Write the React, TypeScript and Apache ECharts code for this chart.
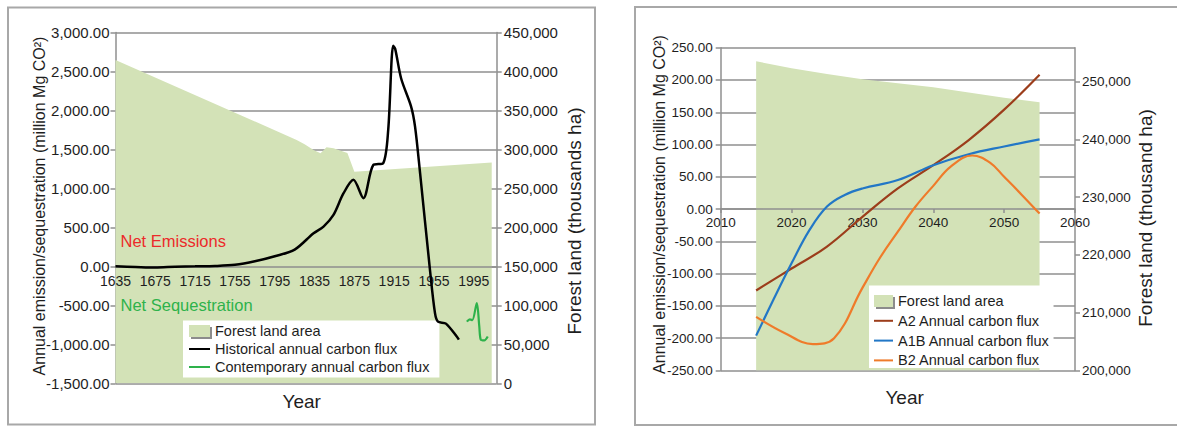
import React, { useEffect, useRef } from "react";
import * as echarts from "echarts";

// ---------- Left chart data (historical) ----------
const X0 = 1635; // first year on the historical axis
const HIST_TICK_LABEL_STEP = 40;
const HIST_YEARS = [1635, 1655, 1675, 1695, 1715, 1735, 1755, 1775, 1795, 1815, 1834, 1844, 1854, 1864, 1874, 1884, 1894, 1904, 1909, 1914, 1916, 1922, 1932, 1936, 1941, 1951, 1956, 1959, 1967, 1980];
const HIST_FLUX = [0, -8, -15, -5, 0, 5, 20, 65, 130, 215, 425, 510, 660, 935, 1110, 875, 1300, 1325, 1750, 2830, 2790, 2410, 2050, 1790, 1200, -50, -600, -710, -735, -940];
const CONTEMP_YEARS = [1988, 1991, 1993.5, 1998, 2000.5, 2002, 2005.5, 2009];
const CONTEMP_FLUX = [-709, -679, -690, -470, -770, -940, -950, -900];
const FOREST_HIST_YEARS = [1635, 1817, 1825, 1834, 1841, 1847, 1854, 1868, 1875, 2013];
const FOREST_HIST_AREA = [414800, 312200, 306500, 299300, 295100, 302800, 301500, 295500, 271500, 283300];

// ---------- Right chart data (projections) ----------
const PROJ_YEARS = [2015, 2020, 2025, 2030, 2035, 2040, 2045, 2050, 2055];
const A2_FLUX = [-126, -92, -58, -12, 32, 68, 107, 154, 208];
const A1B_YEARS = [2015, 2017.5, 2020, 2022.5, 2025, 2027.5, 2030, 2035, 2040, 2045, 2050, 2055];
const A1B_FLUX = [-196, -139, -84, -33, 4, 22, 32, 45, 68, 85, 97, 108];
const B2_YEARS = [2015, 2019, 2023, 2026, 2030, 2032.5, 2035, 2037.5, 2040, 2042.5, 2045.5, 2048, 2050, 2052.5, 2055];
const B2_FLUX = [-167, -192, -209, -200, -122, -75, -35, 4, 36, 66, 83, 72, 50, 22, -7];
const FOREST_PROJ_AREA = [253500, 252300, 251300, 250400, 249700, 249000, 248100, 247200, 246400];

// axis ranges
const L_FLUX_MIN = -1500, L_FLUX_MAX = 3000, L_FLUX_STEP = 500;
const R_FLUX_MIN = -250, R_FLUX_MAX = 250, R_FLUX_STEP = 50;

const LEFT_TITLE = "Annual emission/sequestration (million Mg CO\u00B2)";

export default function App() {
  const ref = useRef<HTMLDivElement>(null);
  useEffect(() => {
    if (!ref.current) return;
    const chart = echarts.init(ref.current, null, { renderer: "svg" });
    const REG = "'Liberation Sans', Arial, sans-serif";

    const GRID = "#8f8f8f";
    const TXT = "#1e1e1e";
    const GREEN_AREA = "#d3e2b7";

    const G0 = { left: 115.5, top: 32.5, width: 381.2, height: 350.8 };
    const G1 = { left: 720.7, top: 47.7, width: 354.3, height: 322.8 };
    // place each x axis on the zero line of its flux axis (labels follow the line)
    const zeroOffset = (min: number, max: number, h: number) => -((0 - min) / (max - min)) * h;

    const fmt2 = (v: number) =>
      v.toLocaleString("en-US", { minimumFractionDigits: 2, maximumFractionDigits: 2 });
    const fmt0 = (v: number) => v.toLocaleString("en-US", { maximumFractionDigits: 0 });

    const axisLineStyle = { show: true, lineStyle: { color: GRID, width: 1.5 } };
    const hideSymbol = { opacity: 0 };

    const option: any = {
      animation: false,
      backgroundColor: "#ffffff",
      grid: [G0, G1],
      xAxis: [
        {
          type: "value",
          gridIndex: 0,
          min: 0,
          max: 383,
          interval: HIST_TICK_LABEL_STEP,
          z: 3,
          offset: zeroOffset(L_FLUX_MIN, L_FLUX_MAX, G0.height),
          axisLine: { show: true, onZero: false, lineStyle: { color: GRID, width: 1.5 } },
          axisTick: { show: false },
          splitLine: { show: false },
          axisLabel: {
            showMaxLabel: false,
            margin: 8,
            color: TXT,
            fontFamily: REG,
            fontSize: 14,
            formatter: (v: number) => String(X0 + v),
          },
        },
        {
          type: "value",
          gridIndex: 1,
          min: 2010,
          max: 2060,
          interval: 10,
          z: 3,
          offset: zeroOffset(R_FLUX_MIN, R_FLUX_MAX, G1.height),
          axisLine: { show: true, onZero: false, lineStyle: { color: GRID, width: 1.5 } },
          axisTick: { show: true, length: 4, lineStyle: { color: GRID, width: 1.5 } },
          splitLine: { show: false },
          axisLabel: { margin: 6, color: TXT, fontFamily: REG, fontSize: 13.5, formatter: (v: number) => String(v) },
        },
      ],
      yAxis: [
        {
          type: "value",
          gridIndex: 0,
          position: "left",
          min: L_FLUX_MIN,
          max: L_FLUX_MAX,
          interval: L_FLUX_STEP,
          axisLine: { ...axisLineStyle, onZero: false },
          axisTick: { show: true, length: 5, lineStyle: { color: GRID, width: 1.5 } },
          splitLine: { show: true, lineStyle: { color: GRID, width: 1.5 } },
          axisLabel: { margin: 6, color: TXT, fontFamily: REG, fontSize: 15, formatter: fmt2 },
        },
        {
          type: "value",
          gridIndex: 0,
          position: "right",
          min: 0,
          max: 450000,
          interval: 50000,
          axisLine: { ...axisLineStyle, onZero: false },
          axisTick: { show: true, length: 5, lineStyle: { color: GRID, width: 1.5 } },
          splitLine: { show: false },
          axisLabel: { margin: 7, color: TXT, fontFamily: REG, fontSize: 15, formatter: fmt0 },
        },
        {
          type: "value",
          gridIndex: 1,
          position: "left",
          min: R_FLUX_MIN,
          max: R_FLUX_MAX,
          interval: R_FLUX_STEP,
          axisLine: { ...axisLineStyle, onZero: false },
          axisTick: { show: true, length: 5, lineStyle: { color: GRID, width: 1.5 } },
          splitLine: { show: true, lineStyle: { color: GRID, width: 1.5 } },
          axisLabel: { margin: 8, color: TXT, fontFamily: REG, fontSize: 13.5, formatter: fmt2 },
        },
        {
          type: "value",
          gridIndex: 1,
          position: "right",
          min: 200000,
          max: 255850,
          interval: 10000,
          axisLine: { ...axisLineStyle, onZero: false },
          axisTick: { show: true, length: 5, lineStyle: { color: GRID, width: 1.5 } },
          splitLine: { show: false },
          axisLabel: { showMaxLabel: false, margin: 7, color: TXT, fontFamily: REG, fontSize: 13.5, formatter: fmt0 },
        },
      ],
      legend: [
        {
          left: 183,
          top: 320.5,
          orient: "vertical",
          backgroundColor: "#ffffff",
          padding: [3, 10, 3, 5],
          itemWidth: 21,
          itemHeight: 12,
          itemGap: 3,
          selectedMode: false,
          textStyle: { color: TXT, fontFamily: REG, fontSize: 14.5 },
          data: [
            {
              name: "Forest land area",
              icon: "rect",
              itemStyle: { color: GREEN_AREA, shadowColor: "rgba(0,0,0,0.45)", shadowOffsetX: 2, shadowOffsetY: 2, shadowBlur: 1 },
            },
            { name: "Historical annual carbon flux", itemStyle: hideSymbol },
            { name: "Contemporary annual carbon flux", itemStyle: hideSymbol },
          ],
        },
        {
          left: 869,
          top: 285.5,
          orient: "vertical",
          backgroundColor: "#ffffff",
          padding: [8, 4, 0, 4],
          itemWidth: 19,
          itemHeight: 12,
          itemGap: 4.8,
          selectedMode: false,
          textStyle: { color: TXT, fontFamily: REG, fontSize: 14.5 },
          data: [
            {
              name: "Forest land area",
              icon: "rect",
              itemStyle: { color: GREEN_AREA, shadowColor: "rgba(0,0,0,0.45)", shadowOffsetX: 2, shadowOffsetY: 2, shadowBlur: 1 },
            },
            { name: "A2 Annual carbon flux", itemStyle: hideSymbol },
            { name: "A1B Annual carbon flux", itemStyle: hideSymbol },
            { name: "B2 Annual carbon flux", itemStyle: hideSymbol },
          ],
        },
      ],
      series: [
        {
          name: "Forest land area",
          type: "line",
          xAxisIndex: 0,
          yAxisIndex: 1,
          z: 1,
          color: GREEN_AREA,
          symbol: "none",
          lineStyle: { width: 0, color: GREEN_AREA },
          areaStyle: { color: GREEN_AREA, opacity: 1, origin: "start" },
          data: FOREST_HIST_YEARS.map((y, i) => [y - X0, FOREST_HIST_AREA[i]]),
        },
        {
          name: "Historical annual carbon flux",
          type: "line",
          xAxisIndex: 0,
          yAxisIndex: 0,
          z: 4,
          color: "#000000",
          symbol: "none",
          smooth: 0.3,
          lineStyle: { width: 2.5, color: "#000000" },
          data: HIST_YEARS.map((y, i) => [y - X0, HIST_FLUX[i]]),
        },
        {
          name: "Contemporary annual carbon flux",
          type: "line",
          xAxisIndex: 0,
          yAxisIndex: 0,
          z: 4,
          color: "#2eb24b",
          symbol: "none",
          smooth: 0.3,
          lineStyle: { width: 2.2, color: "#2eb24b" },
          data: CONTEMP_YEARS.map((y, i) => [y - X0, CONTEMP_FLUX[i]]),
        },
        {
          name: "Forest land area",
          type: "line",
          xAxisIndex: 1,
          yAxisIndex: 3,
          z: 1,
          color: GREEN_AREA,
          symbol: "none",
          lineStyle: { width: 0, color: GREEN_AREA },
          areaStyle: { color: GREEN_AREA, opacity: 1, origin: "start" },
          data: PROJ_YEARS.map((y, i) => [y, FOREST_PROJ_AREA[i]]),
        },
        {
          name: "A2 Annual carbon flux",
          type: "line",
          xAxisIndex: 1,
          yAxisIndex: 2,
          z: 4,
          color: "#9c3d1b",
          symbol: "none",
          smooth: 0.4,
          lineStyle: { width: 2.2, color: "#9c3d1b" },
          data: PROJ_YEARS.map((y, i) => [y, A2_FLUX[i]]),
        },
        {
          name: "A1B Annual carbon flux",
          type: "line",
          xAxisIndex: 1,
          yAxisIndex: 2,
          z: 4,
          color: "#2277c6",
          symbol: "none",
          smooth: 0.4,
          lineStyle: { width: 2.2, color: "#2277c6" },
          data: A1B_YEARS.map((y, i) => [y, A1B_FLUX[i]]),
        },
        {
          name: "B2 Annual carbon flux",
          type: "line",
          xAxisIndex: 1,
          yAxisIndex: 2,
          z: 4,
          color: "#ef7b2a",
          symbol: "none",
          smooth: 0.4,
          lineStyle: { width: 2.2, color: "#ef7b2a" },
          data: B2_YEARS.map((y, i) => [y, B2_FLUX[i]]),
        },
      ],
      graphic: [
        { type: "rect", shape: { x: 8, y: 7.5, width: 587, height: 417 }, style: { fill: "none", stroke: "#a8a8a8", lineWidth: 2 }, silent: true },
        { type: "rect", shape: { x: 635, y: 7, width: 560, height: 418 }, style: { fill: "none", stroke: "#a8a8a8", lineWidth: 2 }, silent: true },
        { type: "text", x: 120.5, y: 241, style: { text: "Net Emissions", fill: "#ec2a2a", font: `16.5px ${REG}`, textVerticalAlign: "middle" }, z: 10 },
        { type: "text", x: 120.5, y: 305, style: { text: "Net Sequestration", fill: "#2eb24b", font: `16.5px ${REG}`, textVerticalAlign: "middle" }, z: 10 },
        { type: "text", x: 39.5, y: 206, rotation: Math.PI / 2, style: { text: LEFT_TITLE, fill: TXT, font: `16px ${REG}`, textAlign: "center", textVerticalAlign: "middle" } },
        { type: "text", x: 574, y: 221, rotation: Math.PI / 2, style: { text: "Forest land (thousands ha)", fill: TXT, font: `19px ${REG}`, textAlign: "center", textVerticalAlign: "middle" } },
        { type: "text", x: 301.7, y: 401, style: { text: "Year", fill: TXT, font: `19px ${REG}`, textAlign: "center", textVerticalAlign: "middle" } },
        { type: "text", x: 659, y: 204.5, rotation: Math.PI / 2, style: { text: LEFT_TITLE, fill: TXT, font: `16px ${REG}`, textAlign: "center", textVerticalAlign: "middle" } },
        { type: "text", x: 1145.5, y: 218, rotation: Math.PI / 2, style: { text: "Forest land (thousand ha)", fill: TXT, font: `19px ${REG}`, textAlign: "center", textVerticalAlign: "middle" } },
        { type: "text", x: 904.6, y: 397, style: { text: "Year", fill: TXT, font: `19px ${REG}`, textAlign: "center", textVerticalAlign: "middle" } },
      ],
    };
    chart.setOption(option);
    return () => chart.dispose();
  }, []);
  return (
    <div
      ref={ref}
      style={{ position: "fixed", left: 0, top: 0, width: 1177, height: 428, background: "#fff" }}
    />
  );
}
